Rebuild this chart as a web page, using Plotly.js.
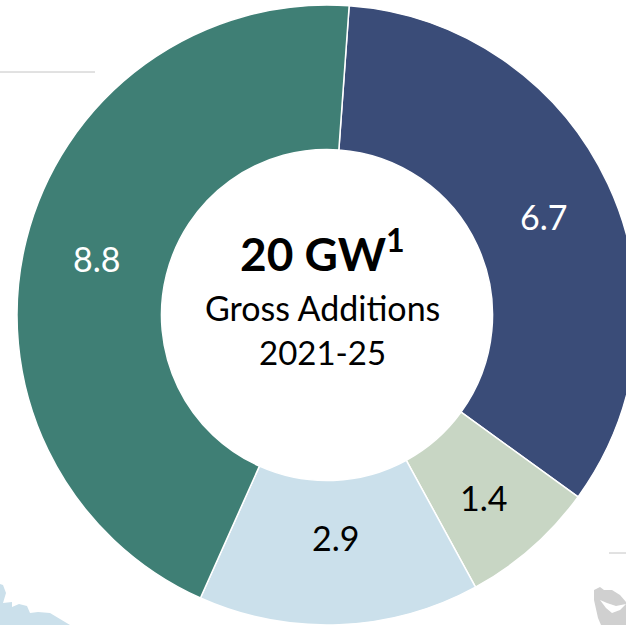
<!DOCTYPE html>
<html><head><meta charset="utf-8">
<script src="https://cdn.plot.ly/plotly-3.0.1.min.js"></script>
<style>html,body{margin:0;padding:0;background:#fff;overflow:hidden;width:626px;height:625px}</style>
</head><body><div id="chart" style="width:660px;height:625px"></div>
<script>
const categories = ["Segment A","Segment B","Segment C","Segment D"];
const values = [6.7,1.4,2.9,8.8];
const colors = ["#3A4C78","#C8D6C4","#CBE0EB","#3F7F75"];
const labelColors = ["#fff","#000","#000","#fff"];
const labelX = [543,484,335,96];
const labelY = [217,497,537,258];
const centerTitle = "<b>20 GW<sup>1</sup></b>";
const centerLines = ["Gross Additions","2021-25"];
const W=660,H=625;
const FONT="Lato, 'Open Sans', sans-serif";
function px(x){return x/W;} function py(y){return 1-y/H;}
function poly(pts){return pts.map((p,i)=>(i?"L":"M")+px(p[0])+","+py(p[1])).join(" ")+" Z";}
const base={xref:"paper",yref:"paper",showarrow:false,xanchor:"center",yanchor:"middle"};
const trace={type:"pie",labels:categories,values:values,sort:false,direction:"clockwise",rotation:4.1,hole:0.534,
 marker:{colors:colors,line:{color:"#fff",width:1.5}},textinfo:"none",
 domain:{x:[px(17),px(637)],y:[py(625),py(5)]},showlegend:false,hoverinfo:"skip"};
const valueNotes=values.map((v,i)=>({...base,text:v.toFixed(1),x:px(labelX[i]),y:py(labelY[i]),
 font:{family:FONT,size:34,color:labelColors[i]}}));
const layout={width:W,height:H,margin:{l:0,r:0,t:0,b:0},paper_bgcolor:"#fff",showlegend:false,
 annotations:valueNotes.concat([
 {...base,text:centerTitle,x:px(322),y:py(250),font:{family:FONT,size:46,color:"#000"}},
 {...base,text:centerLines[0],x:px(322),y:py(307),font:{family:FONT,size:34,color:"#000"}},
 {...base,text:centerLines[1],x:px(322),y:py(352),font:{family:FONT,size:33,color:"#000"}}
 ]),
 shapes:[
 {type:"line",xref:"paper",yref:"paper",x0:px(0),x1:px(95),y0:py(72),y1:py(72),line:{color:"#c4c4c4",width:1},layer:"below"},
 {type:"line",xref:"paper",yref:"paper",x0:px(609),x1:px(626),y0:py(553),y1:py(553),line:{color:"#c4c4c4",width:1},layer:"below"},
 {type:"path",xref:"paper",yref:"paper",layer:"below",fillcolor:"#CBE0EB",line:{width:0},
  path:poly([[0,584],[3,585],[6,593],[3,603],[12,602],[12,607],[19,604],[27,606],[30,613],[38,612],[50,613],[60,619],[70,625],[0,625]])},
 {type:"path",xref:"paper",yref:"paper",layer:"below",fillcolor:"#D0D0D0",line:{width:0},
  path:poly([[594,590],[600,587],[604,590],[612,590],[620,595],[626,602],[626,625],[601,625],[598,618],[594,600]])},
 {type:"path",xref:"paper",yref:"paper",layer:"below",fillcolor:"#fff",line:{width:0},
  path:poly([[600,600],[607,603],[616,606],[626,604],[620,610],[612,613],[606,608]])}
 ]};
Plotly.newPlot("chart",[trace],layout,{displayModeBar:false,staticPlot:true});
</script></body></html>
